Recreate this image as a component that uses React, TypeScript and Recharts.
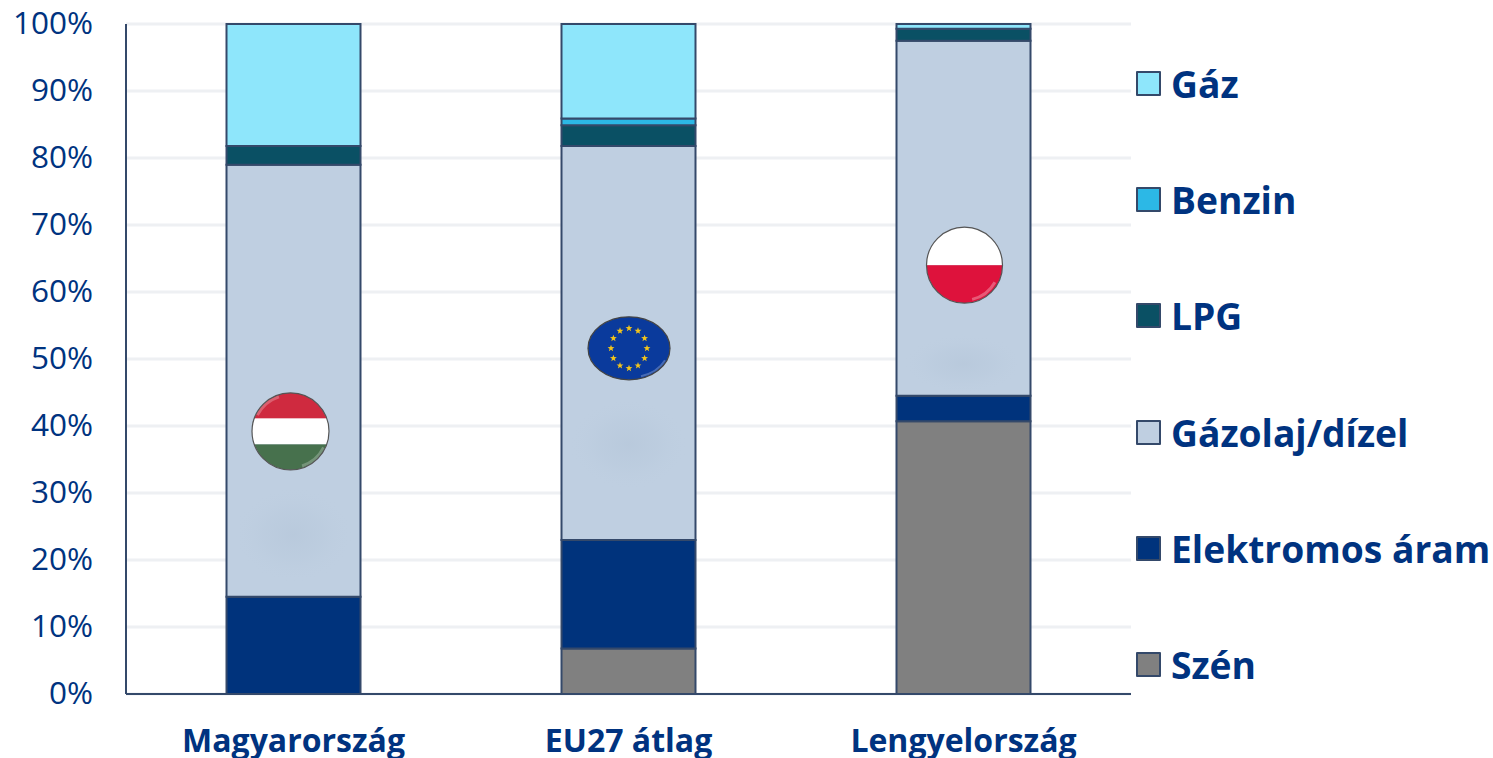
import React from 'react'
import { BarChart, Bar, XAxis, YAxis, CartesianGrid, Legend, ReferenceDot } from 'recharts'

const countries = ['Magyarország', 'EU27 átlag', 'Lengyelország']
const szen = [0, 6.8, 40.7]
const elektromos = [14.5, 16.2, 3.8]
const gazolaj = [64.5, 58.8, 53]
const lpg = [2.8, 3.1, 1.8]
const benzin = [0, 1, 0]
const gaz = [18.2, 14.1, 0.7]
const yTicks = [0, 10, 20, 30, 40, 50, 60, 70, 80, 90, 100]

const seriesNames = ['Szén', 'Elektromos áram', 'Gázolaj/dízel', 'LPG', 'Benzin', 'Gáz']
const seriesColors = ['#808080', '#00337c', '#bfcfe1', '#0a5064', '#2cb8e6', '#8ee6fb']
const seriesValues = [szen, elektromos, gazolaj, lpg, benzin, gaz]

// where the flags and their soft shadows sit, in chart values
const flagLevels = [39.2, 51.6, 64]
const shadowLevels = [23.8, 37.3, 49.3]

const chartData = countries.map((name, i) => {
    const row: Record<string, string | number> = { name }
    seriesNames.forEach((s, j) => {
        row[s] = seriesValues[j][i]
    })
    return row
})

const BLUE = '#003380'
const EDGE = '#34496a'
const FONT = '"Open Sans", sans-serif'

const Gloss = ({ r }: { r: number }) => (
    <>
        <path
            d={`M ${-r * 0.86} ${-r * 0.42} A ${r * 0.95} ${r * 0.95} 0 0 1 ${-r * 0.3} ${-r * 0.9}`}
            fill="none" stroke="#fff" strokeOpacity={0.25} strokeWidth={3}
        />
        <path
            d={`M ${r * 0.86} ${r * 0.42} A ${r * 0.95} ${r * 0.95} 0 0 1 ${r * 0.3} ${r * 0.9}`}
            fill="none" stroke="#fff" strokeOpacity={0.25} strokeWidth={3}
        />
    </>
)

const HuFlag = ({ cx, cy }: any) => {
    const r = 38.5
    return (
        <g transform={`translate(${cx - 3} ${cy})`}>
            <clipPath id="hu-clip"><circle r={r} /></clipPath>
            <g clipPath="url(#hu-clip)">
                <rect x={-r} y={-r} width={r * 2} height={26} fill="#cf2a3f" />
                <rect x={-r} y={-13} width={r * 2} height={26} fill="#fff" />
                <rect x={-r} y={13} width={r * 2} height={26} fill="#47714d" />
                <Gloss r={r} />
            </g>
            <circle r={r} fill="none" stroke="#555" strokeWidth={1.2} />
        </g>
    )
}

const PlFlag = ({ cx, cy }: any) => {
    const r = 38
    return (
        <g transform={`translate(${cx + 1} ${cy})`}>
            <clipPath id="pl-clip"><circle r={r} /></clipPath>
            <g clipPath="url(#pl-clip)">
                <rect x={-r} y={-r} width={r * 2} height={r} fill="#fff" />
                <rect x={-r} y={0} width={r * 2} height={r} fill="#de123c" />
                <path d={`M ${r * 0.8} ${r * 0.45} A ${r * 0.92} ${r * 0.92} 0 0 1 ${r * 0.2} ${r * 0.9}`}
                    fill="none" stroke="#fff" strokeOpacity={0.3} strokeWidth={3} />
            </g>
            <circle r={r} fill="none" stroke="#555" strokeWidth={1.2} />
        </g>
    )
}

const starClock = [0, 1, 2, 3, 4, 5, 6, 7, 8, 9, 10, 11]
const starPoints = [0, 1, 2, 3, 4, 5, 6, 7, 8, 9]

// small five pointed star for the EU flag
const Star = ({ x, y }: { x: number; y: number }) => {
    const pts = starPoints.map(k => {
        const rad = k % 2 === 0 ? 3.6 : 1.5
        const a = (k * Math.PI) / 5
        return `${x + rad * Math.sin(a)},${y - rad * Math.cos(a)}`
    })
    return <polygon points={pts.join(' ')} fill="#f2c41c" />
}

const EuFlag = ({ cx, cy }: any) => (
    <g transform={`translate(${cx + 0.5} ${cy})`}>
        <ellipse rx={41} ry={31.5} fill="#0a3a9c" stroke="#444" strokeWidth={1.2} />
        <path d="M 36 12 A 39 30 0 0 1 12 28" fill="none" stroke="#fff" strokeOpacity={0.25} strokeWidth={2} />
        {starClock.map(h => (
            <Star
                key={h}
                x={18 * Math.sin((h * Math.PI) / 6)}
                y={-20 * Math.cos((h * Math.PI) / 6)}
            />
        ))}
    </g>
)

const softShadow = (ry: number) => ({ cx, cy }: any) => (
    <ellipse cx={cx} cy={cy} rx={60} ry={ry} fill="url(#flag-shadow)" />
)

const flagShapes = [HuFlag, EuFlag, PlFlag]
const shadowShapes = [softShadow(48), softShadow(46), softShadow(30)]

const LegendBox = ({ payload }: any) => {
    const rows = [...(payload || [])].reverse()
    return (
        <div>
            {rows.map((p: any) => (
                <div key={p.value} style={{ height: 116.3, display: 'flex', alignItems: 'center', whiteSpace: 'nowrap' }}>
                    <span style={{
                        display: 'inline-block', width: 21, height: 21, background: p.color,
                        border: `2px solid ${EDGE}`, marginRight: 10, borderRadius: 1, flexShrink: 0,
                    }} />
                    <span style={{ fontFamily: FONT, fontWeight: 700, fontSize: 37.2, color: BLUE }}>{p.value}</span>
                </div>
            ))}
        </div>
    )
}

const App = () => {
    return (
        <div style={{ position: 'absolute', left: 0, top: 0, width: 1493, height: 758, overflow: 'hidden' }}>
            <BarChart
                width={1493}
                height={758}
                data={chartData}
                margin={{ top: 24, right: 0, bottom: 0, left: 0 }}
                barCategoryGap="30%"
            >
                <defs>
                    <radialGradient id="flag-shadow">
                        <stop offset="0%" stopColor="#b6c7da" stopOpacity={0.7} />
                        <stop offset="50%" stopColor="#b8c9dc" stopOpacity={0.4} />
                        <stop offset="100%" stopColor="#bfcfe1" stopOpacity={0} />
                    </radialGradient>
                </defs>
                <CartesianGrid vertical={false} stroke="#eef0f3" strokeWidth={3} />
                <XAxis
                    dataKey="name"
                    height={64}
                    tickLine={false}
                    axisLine={{ stroke: EDGE, strokeWidth: 2 }}
                    tickMargin={29}
                    tick={{ fill: BLUE, fontFamily: FONT, fontWeight: 700, fontSize: 32 }}
                    interval={0}
                />
                <YAxis
                    width={126}
                    domain={[0, 100]}
                    ticks={yTicks}
                    tickFormatter={v => `${v}%`}
                    tickLine={false}
                    axisLine={{ stroke: EDGE, strokeWidth: 2 }}
                    tickMargin={27}
                    tick={{ fill: BLUE, fontFamily: FONT, fontSize: 31.5, dy: -1 }}
                />
                <Legend
                    layout="vertical"
                    align="right"
                    verticalAlign="top"
                    width={362}
                    itemSorter={null}
                    content={<LegendBox />}
                    wrapperStyle={{ top: 25, left: 1136, right: 'auto' }}
                />
                {seriesNames.map((s, j) => (
                    <Bar
                        key={s}
                        dataKey={s}
                        stackId="a"
                        fill={seriesColors[j]}
                        stroke={EDGE}
                        strokeWidth={2}
                        isAnimationActive={false}
                    />
                ))}
                {countries.map((c, i) => (
                    <ReferenceDot key={`s${c}`} x={c} y={shadowLevels[i]} shape={shadowShapes[i]} />
                ))}
                {countries.map((c, i) => (
                    <ReferenceDot key={c} x={c} y={flagLevels[i]} shape={flagShapes[i]} />
                ))}
            </BarChart>
        </div>
    )
}

export default App
